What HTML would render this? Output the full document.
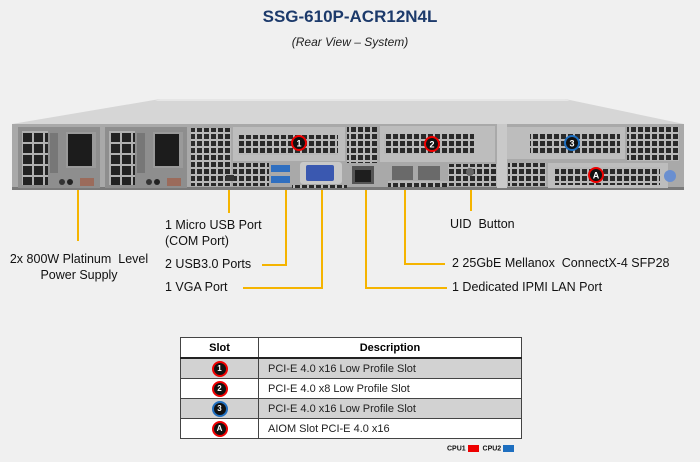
<!DOCTYPE html>
<html><head><meta charset="utf-8"><style>
body{margin:0;width:700px;height:462px;background:#f0f0f0;font-family:"Liberation Sans",sans-serif;position:relative;overflow:hidden}
.t{position:absolute;white-space:nowrap;color:#111;font-size:12.5px}
table{position:absolute;left:180px;top:337px;width:342px;border-collapse:collapse;font-size:11px}
td,th{border:1px solid #444;height:19px;padding:0}
th{font-size:11px;background:#fff;border-bottom:2px solid #222}
td.s{width:77px;text-align:center}
td.d{padding-left:9px;color:#222}
.g td{background:#d2d2d2}.w td{background:#fff}
.m{display:inline-block;width:12px;height:12px;border-radius:50%;background:#111;border:2.5px solid #e00;color:#fff;font-size:8px;font-weight:bold;line-height:12px;text-align:center;vertical-align:middle}
</style></head><body>
<div class="t" style="left:0;width:700px;text-align:center;top:7px;font-size:17px;font-weight:bold;color:#1c3a6b">SSG-610P-ACR12N4L</div>
<div class="t" style="left:0;width:700px;text-align:center;top:35px;font-size:12px;font-style:italic;color:#222">(Rear View – System)</div>
<svg width="700" height="462" style="position:absolute;left:0;top:0">
<defs>
<pattern id="gr" width="7" height="7" patternUnits="userSpaceOnUse"><rect width="7" height="7" fill="#b8b8b8"/><rect x="1" y="1" width="5" height="5" fill="#2a2a2a"/></pattern>
<pattern id="gb" width="11" height="11" patternUnits="userSpaceOnUse"><rect width="11" height="11" fill="#b0b0b0"/><rect x="1" y="1" width="9" height="9" fill="#222"/></pattern>
</defs>
<polygon points="160,99 565,99 684,124 12,124" fill="#d6d6d6"/>
<polygon points="160,99 565,99 570,101 155,101" fill="#e6e6e6"/>
<rect x="12" y="124" width="672" height="66" fill="#a9a9a9"/>
<rect x="12" y="187" width="672" height="3" fill="#7a7a7a"/>
<g>
<rect x="18" y="127" width="82" height="61" fill="#8e8e8e"/>
<rect x="22" y="131" width="26" height="54" fill="url(#gb)"/>
<rect x="50" y="133" width="8" height="40" fill="#777"/>
<rect x="66" y="132" width="30" height="36" fill="#9a9a9a"/>
<rect x="68" y="134" width="24" height="32" fill="#1c1c1c"/>
<circle cx="62" cy="182" r="3" fill="#333"/><circle cx="70" cy="182" r="3" fill="#222"/>
<rect x="80" y="178" width="14" height="8" fill="#9b6b5b"/>
<rect x="105" y="127" width="82" height="61" fill="#8e8e8e"/>
<rect x="109" y="131" width="26" height="54" fill="url(#gb)"/>
<rect x="137" y="133" width="8" height="40" fill="#777"/>
<rect x="153" y="132" width="30" height="36" fill="#9a9a9a"/>
<rect x="155" y="134" width="24" height="32" fill="#1c1c1c"/>
<circle cx="149" cy="182" r="3" fill="#333"/><circle cx="157" cy="182" r="3" fill="#222"/>
<rect x="167" y="178" width="14" height="8" fill="#9b6b5b"/>
</g>
<rect x="191" y="128" width="40" height="58" fill="url(#gr)"/>
<rect x="233" y="127" width="112" height="34" fill="#bdbdbd"/>
<rect x="238" y="135" width="100" height="20" fill="url(#gr)"/>
<rect x="233" y="163" width="36" height="23" fill="url(#gr)"/>
<rect x="226" y="175" width="8" height="6" fill="#333"/>
<rect x="271" y="165" width="19" height="7" fill="#2f6fc0"/><rect x="271" y="176" width="19" height="7" fill="#2f6fc0"/>
<rect x="300" y="162" width="42" height="22" rx="3" fill="#c8c8c8"/>
<rect x="306" y="165" width="28" height="16" rx="2" fill="#3a58b0"/>
<rect x="292" y="185" width="55" height="3" fill="url(#gr)"/>
<rect x="347" y="127" width="30" height="36" fill="url(#gr)"/>
<rect x="352" y="166" width="22" height="18" fill="#555"/><rect x="355" y="170" width="16" height="12" fill="#1e1e1e"/>
<rect x="380" y="126" width="115" height="36" fill="#bdbdbd"/>
<rect x="384" y="134" width="90" height="20" fill="url(#gr)"/>
<rect x="392" y="166" width="21" height="14" fill="#6a6a6a"/><rect x="418" y="166" width="22" height="14" fill="#6a6a6a"/>
<rect x="388" y="181" width="60" height="6" fill="url(#gr)"/>
<rect x="448" y="164" width="50" height="22" fill="url(#gr)"/>
<circle cx="470" cy="172" r="4" fill="#666"/>
<rect x="497" y="124" width="10" height="64" fill="#c9c9c9"/>
<rect x="507" y="127" width="118" height="32" fill="#bdbdbd"/>
<rect x="530" y="134" width="90" height="20" fill="url(#gr)"/>
<rect x="627" y="127" width="52" height="34" fill="url(#gr)"/>
<rect x="508" y="163" width="38" height="23" fill="url(#gr)"/>
<rect x="548" y="163" width="120" height="25" fill="#bdbdbd"/>
<rect x="555" y="167" width="105" height="18" fill="url(#gr)"/>
<circle cx="670" cy="176" r="6" fill="#6a8fd0"/>
<g font-size="9" font-weight="bold" fill="#fff" text-anchor="middle" font-family="Liberation Sans">
<circle cx="299" cy="143" r="7" fill="#111" stroke="#e00" stroke-width="2"/><text x="299" y="146.5">1</text>
<circle cx="432" cy="144" r="7" fill="#111" stroke="#e00" stroke-width="2"/><text x="432" y="147.5">2</text>
<circle cx="572" cy="143" r="7" fill="#111" stroke="#1e6fc0" stroke-width="2"/><text x="572" y="146.5">3</text>
<circle cx="596" cy="175" r="7" fill="#111" stroke="#e00" stroke-width="2"/><text x="596" y="178.5">A</text>
</g>
<g stroke="#f5b400" stroke-width="2" fill="none">
<path d="M78 190V241"/>
<path d="M229 190V213"/>
<path d="M286 190V265H262"/>
<path d="M322 190V288H243"/>
<path d="M366 190V288H447"/>
<path d="M405 190V264H445"/>
<path d="M471 190V211"/>
</g>
</svg>
<div class="t" style="left:9px;top:251px;width:140px;text-align:center;line-height:16px">2x 800W Platinum &nbsp;Level<br>Power Supply</div>
<div class="t" style="left:165px;top:217px;line-height:16px">1 Micro USB Port<br>(COM Port)</div>
<div class="t" style="left:165px;top:257px">2 USB3.0 Ports</div>
<div class="t" style="left:165px;top:280px">1 VGA Port</div>
<div class="t" style="left:450px;top:217px">UID &nbsp;Button</div>
<div class="t" style="left:452px;top:256px">2 25GbE Mellanox &nbsp;ConnectX-4 SFP28</div>
<div class="t" style="left:452px;top:280px">1 Dedicated IPMI LAN Port</div>
<table>
<tr><th>Slot</th><th>Description</th></tr>
<tr class="g"><td class="s"><span class="m">1</span></td><td class="d">PCI-E 4.0 x16 Low Profile Slot</td></tr>
<tr class="w"><td class="s"><span class="m">2</span></td><td class="d">PCI-E 4.0 x8 Low Profile Slot</td></tr>
<tr class="g"><td class="s"><span class="m" style="border-color:#1e6fc0">3</span></td><td class="d">PCI-E 4.0 x16 Low Profile Slot</td></tr>
<tr class="w"><td class="s"><span class="m">A</span></td><td class="d">AIOM Slot PCI-E 4.0 x16</td></tr>
</table>
<div class="t" style="left:447px;top:445px;font-size:7px;font-weight:bold">CPU1 <span style="display:inline-block;width:11px;height:7px;background:#e00;vertical-align:middle"></span> &nbsp;CPU2 <span style="display:inline-block;width:11px;height:7px;background:#1e6fc0;vertical-align:middle"></span></div>
</body></html>
